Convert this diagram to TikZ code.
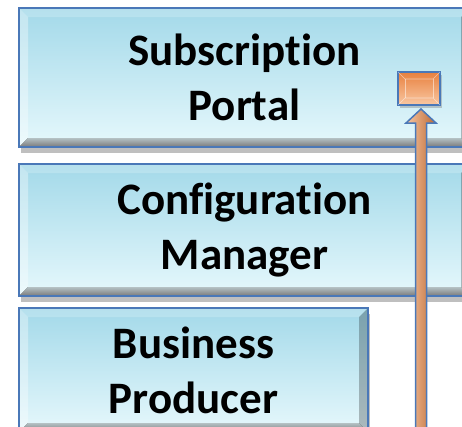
\documentclass[tikz,border=0pt]{standalone}
\usepackage{fontspec}
\setmainfont{Carlito}[Ligatures={NoCommon}]
\usetikzlibrary{calc,shadows}
\definecolor{boxtop}{HTML}{A3D9E9}
\definecolor{boxbottom}{HTML}{E6F8FC}
\definecolor{boxline}{HTML}{4A78B8}
\definecolor{portlight}{HTML}{F9C7A2}
\definecolor{portdark}{HTML}{E8813F}
\tikzset{
  module/.style={draw=boxline, line width=1.5pt, outer sep=0pt, inner sep=0pt,
    top color=boxtop, bottom color=boxbottom, align=center,
    font=\bfseries\fontsize{45}{55}\selectfont,
    drop shadow={shadow xshift=2pt, shadow yshift=-6pt, opacity=0.5}},
  portbox/.style={draw=boxline, line width=2pt, outer sep=0pt, inner sep=0pt,
    minimum width=42pt, minimum height=33pt, top color=portdark, bottom color=portlight,
    drop shadow={shadow xshift=2pt, shadow yshift=-3pt, opacity=0.4}},
  fatarrow/.style={draw=boxline, line width=1.5pt, line join=miter,
    left color=portlight, right color=portdark!80!black},
}
% bevelled faces of a module
\newcommand\bevel[1]{%
  \fill[white, opacity=0.35] (#1.north west) -- (#1.south west) -- ++(9,9) -- ($(#1.north west)+(9,-9)$) -- cycle;
  \fill[white, opacity=0.2] (#1.north west) -- (#1.north east) -- ++(-9,-9) -- ($(#1.north west)+(9,-9)$) -- cycle;
  \fill[black, opacity=0.25] (#1.north east) -- (#1.south east) -- ++(-9,9) -- ($(#1.north east)+(-9,-9)$) -- cycle;
  \fill[top color=boxbottom!85!gray, bottom color=black!45, opacity=0.8] (#1.south west) -- (#1.south east) -- ++(-9,9) -- ($(#1.south west)+(9,9)$) -- cycle;
  \draw[boxline, line width=1.5pt] (#1.north west) rectangle (#1.south east);
}
\begin{document}
\begin{tikzpicture}[x=1pt,y=1pt]
\useasboundingbox (0,0) rectangle (462,-426);
% Modules
\node[module, minimum width=451pt, minimum height=139pt] (portal) at (244.5,-77.5) {Subscription\\ Portal};
\node[module, minimum width=451pt, minimum height=132pt] (config) at (244.5,-230) {Configuration\\ Manager};
\node[module, minimum width=349pt, minimum height=124pt] (producer) at (193.5,-370) {Business\\ Producer};
\foreach \m in {portal,config,producer} {\bevel{\m}}
% Port on the portal
\node[portbox] (port) at (419,-88.5) {};
\draw[white, opacity=0.5, line width=0.6pt] (port.north west) -- ++(7,-7) -- ($(port.north east)+(-7,-7)$) -- (port.north east);
\draw[white, opacity=0.5, line width=0.6pt] (port.south west) -- ++(7,7) -- ($(port.south east)+(-7,7)$) -- (port.south east);
\draw[white, opacity=0.5, line width=0.6pt] ($(port.north west)+(7,-7)$) -- ($(port.south west)+(7,7)$);
\draw[white, opacity=0.5, line width=0.6pt] ($(port.north east)+(-7,-7)$) -- ($(port.south east)+(-7,7)$);
% Arrow up into the port
\coordinate (tip) at ($(port.south)+(2,-4)$);
\coordinate (foot) at (tip |- 0,-440);
\filldraw[fatarrow] (tip) -- ++(15,-14) -- ++(-9.5,0) -- ($(foot)+(5.5,0)$) -- ($(foot)+(-5.5,0)$) -- ($(tip)+(-5.5,-14)$) -- ++(-9.5,0) -- cycle;
\end{tikzpicture}
\end{document}
